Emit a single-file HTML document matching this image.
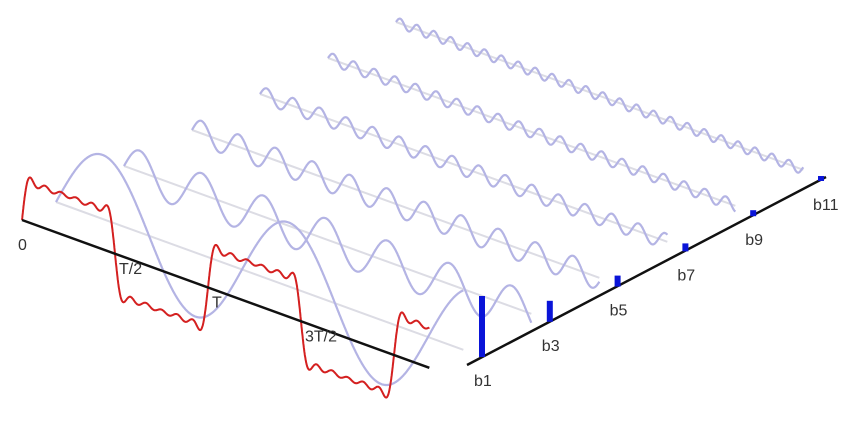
<!DOCTYPE html>
<html><head><meta charset="utf-8"><style>
body{margin:0;background:#fff;}
svg{display:block;font-family:"Liberation Sans",sans-serif;}
text{fill:#333;font-size:16px;}
</style></head><body>
<svg id="c" width="862" height="428" viewBox="0 0 862 428">
<g id="waves"></g>
<g id="sum"></g>
<g id="axes"></g>
<g id="bars"></g>
<g id="labels"></g>
</svg>
<script>
const harmonics=[1,3,5,7,9,11];
const waveAmps=[64,21,12.5,8,6,4.8];
const barHeights=[61,21,11,8,6,5];
const barLabels=["b1","b3","b5","b7","b9","b11"];
const timeLabels=["0","T/2","T","3T/2"];
const timeTicks=[0,0.5,1,1.5];
const periods=2.19;

const NS="http://www.w3.org/2000/svg";
const O={x:22,y:220};
const P={x:186,y:67.5};
const D={x:34,y:-18};
const B0={x:482,y:357};
const BD={x:67.8,y:-35.2};
function tp(t,n,v){return [O.x+t*P.x+n*D.x, O.y+t*P.y+n*D.y - v];}
function mk(tag,attrs,parent){const e=document.createElementNS(NS,tag);for(const k in attrs)e.setAttribute(k,attrs[k]);parent.appendChild(e);return e;}

const wg=document.getElementById('waves');
for(let i=harmonics.length-1;i>=0;i--){
  const n=harmonics[i];
  const a=tp(0,n,0),b=tp(periods,n,0);
  const base=mk('line',{x1:a[0],y1:a[1],x2:b[0],y2:b[1],stroke:'#dcdce4','stroke-width':2},wg);
  
  
  let d='';
  for(let s=0;s<=1200;s++){const t=periods*s/1200;const p=tp(t,n,waveAmps[i]*Math.sin(2*Math.PI*n*t));d+=(s?'L':'M')+p[0].toFixed(1)+' '+p[1].toFixed(1);}
  const w=mk('path',{d:d,fill:'none',stroke:'#b4b4e4','stroke-width':2.2},wg);
  
  
}

const sg=document.getElementById('sum');
let d='';
for(let s=0;s<=1600;s++){const t=periods*s/1600;let v=0;for(let i=0;i<harmonics.length;i++)v+=waveAmps[i]*Math.sin(2*Math.PI*harmonics[i]*t)*0.8;const p=tp(t,0,v);d+=(s?'L':'M')+p[0].toFixed(1)+' '+p[1].toFixed(1);}
const red=mk('path',{d:d,fill:'none',stroke:'#d42020','stroke-width':2},sg);



const ag=document.getElementById('axes');
const e=tp(periods,0,0);
const ta=mk('line',{x1:O.x,y1:O.y,x2:e[0],y2:e[1],stroke:'#111','stroke-width':2.5},ag);


const fa=mk('line',{x1:467,y1:365,x2:826,y2:177,stroke:'#111','stroke-width':2.5},ag);



const bg=document.getElementById('bars');
const lg=document.getElementById('labels');
for(let i=0;i<barHeights.length;i++){
  const x=B0.x+i*BD.x,y=B0.y+i*BD.y;
  const r=mk('rect',{x:x-3,y:y-barHeights[i],width:6,height:barHeights[i],fill:'#0a14d8'},bg);
  
  
  const t=mk('text',{x:x-8,y:y+29},lg);t.textContent=barLabels[i];
  
  
}
const offs=[[-4,30],[4,20],[4,20],[4,20]];
for(let i=0;i<timeLabels.length;i++){
  const p=tp(timeTicks[i],0,0);
  const t=mk('text',{x:p[0]+offs[i][0],y:p[1]+offs[i][1]},lg);t.textContent=timeLabels[i];
  
  
}
</script>
</body></html>
